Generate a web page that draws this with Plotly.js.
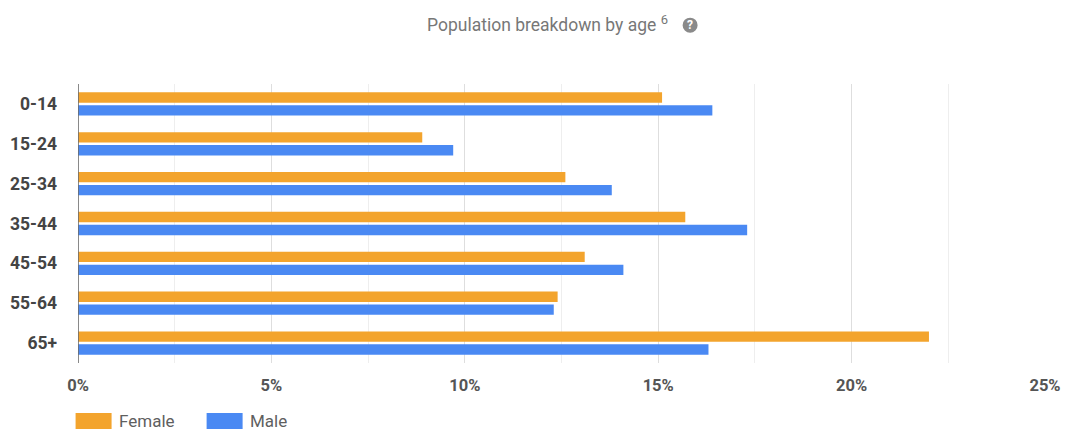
<!DOCTYPE html>
<html>
<head>
<meta charset="utf-8">
<script src="https://cdn.plot.ly/plotly-3.0.1.min.js"></script>
<style>
  html, body { margin: 0; padding: 0; background: #fff; }
  #chart { width: 1065px; height: 432px; }
</style>
</head>
<body>
<div id="chart"></div>
<script>
// Share of population (%) by age group
const ageGroups = ['0-14', '15-24', '25-34', '35-44', '45-54', '55-64', '65+'];
const female = [15.1, 8.9, 12.6, 15.7, 13.1, 12.4, 22.0];
const male = [16.4, 9.7, 13.8, 17.3, 14.1, 12.3, 16.3];
const seriesNames = ['Female', 'Male'];
const seriesColors = ['#F3A42D', '#4A89F3'];

const traces = [female, male].map((vals, i) => ({
  type: 'bar',
  orientation: 'h',
  name: seriesNames[i],
  y: ageGroups,
  x: vals,
  marker: { color: seriesColors[i], line: { width: 0 } },
  hovertemplate: '%{y}: %{x}%<extra>' + seriesNames[i] + '</extra>'
}));

// Legend drawn as wide swatches with labels underneath the plot
const legendShapes = [];
const legendNotes = [];
const legendX = [-0.0025, 0.133];
seriesNames.forEach((name, i) => {
  legendShapes.push({
    type: 'rect', xref: 'paper', yref: 'paper',
    xsizemode: 'pixel', ysizemode: 'pixel',
    xanchor: legendX[i], yanchor: -0.208,
    x0: 0, x1: 36, y0: -8, y1: 8,
    fillcolor: seriesColors[i], line: { width: 0 }
  });
  legendNotes.push({
    xref: 'paper', yref: 'paper', x: legendX[i], y: -0.208,
    xshift: 41, xanchor: 'left', yanchor: 'middle', showarrow: false,
    text: name, font: { family: 'Roboto, sans-serif', size: 17, color: '#5f5f5f' }
  });
});

// Help badge beside the title
legendShapes.push({
  type: 'circle', xref: 'paper', yref: 'paper',
  xsizemode: 'pixel', ysizemode: 'pixel',
  xanchor: 0.633, yanchor: 1.211,
  x0: -7.5, x1: 7.5, y0: -7.5, y1: 7.5,
  fillcolor: '#8a8a8a', line: { width: 0 }
});
legendNotes.push({
  xref: 'paper', yref: 'paper', x: 0.633, y: 1.211,
  xanchor: 'center', yanchor: 'middle', showarrow: false,
  text: '<b>?</b>', font: { family: 'Roboto, sans-serif', size: 12, color: '#ffffff' }
});

const layout = {
  width: 1065, height: 432,
  margin: { l: 78, r: 20, t: 84, b: 69, pad: 0 },
  paper_bgcolor: '#ffffff', plot_bgcolor: '#ffffff',
  showlegend: false,
  barmode: 'group',
  bargap: 0.35,
  bargroupgap: 0.2,
  title: {
    text: 'Population breakdown by age <sup><span style="font-size:13px">6</span></sup>',
    x: 0.361, xref: 'paper', xanchor: 'left',
    y: 0.942, yref: 'container', yanchor: 'middle',
    font: { family: 'Roboto, sans-serif', size: 17.5, color: '#777777' }
  },
  xaxis: {
    range: [0, 25],
    dtick: 5, tick0: 0,
    ticksuffix: '%',
    showgrid: true, gridcolor: '#dedede', gridwidth: 1.2,
    minor: { dtick: 2.5, showgrid: true, gridcolor: '#eeeeee', gridwidth: 1 },
    zeroline: false, showline: false,
    ticks: '', ticklabelstandoff: 10,
    tickfont: { family: 'Roboto, sans-serif', size: 16.5, color: '#555555', weight: 'bold' },
    fixedrange: true
  },
  yaxis: {
    type: 'category',
    autorange: 'reversed',
    showgrid: false, zeroline: false,
    showline: false,
    ticks: '', ticklabelstandoff: 20,
    tickfont: { family: 'Roboto, sans-serif', size: 17.5, color: '#444444', weight: 'bold' },
    fixedrange: true
  },
  shapes: [
    // baseline at 0%
    { type: 'line', xref: 'x', yref: 'paper', x0: 0, x1: 0, y0: 0, y1: 1,
      line: { color: '#6b6b6b', width: 1.6 }, layer: 'above' }
  ].concat(legendShapes),
  annotations: legendNotes
};

Plotly.newPlot('chart', traces, layout, { displayModeBar: false, staticPlot: true });
</script>
</body>
</html>
